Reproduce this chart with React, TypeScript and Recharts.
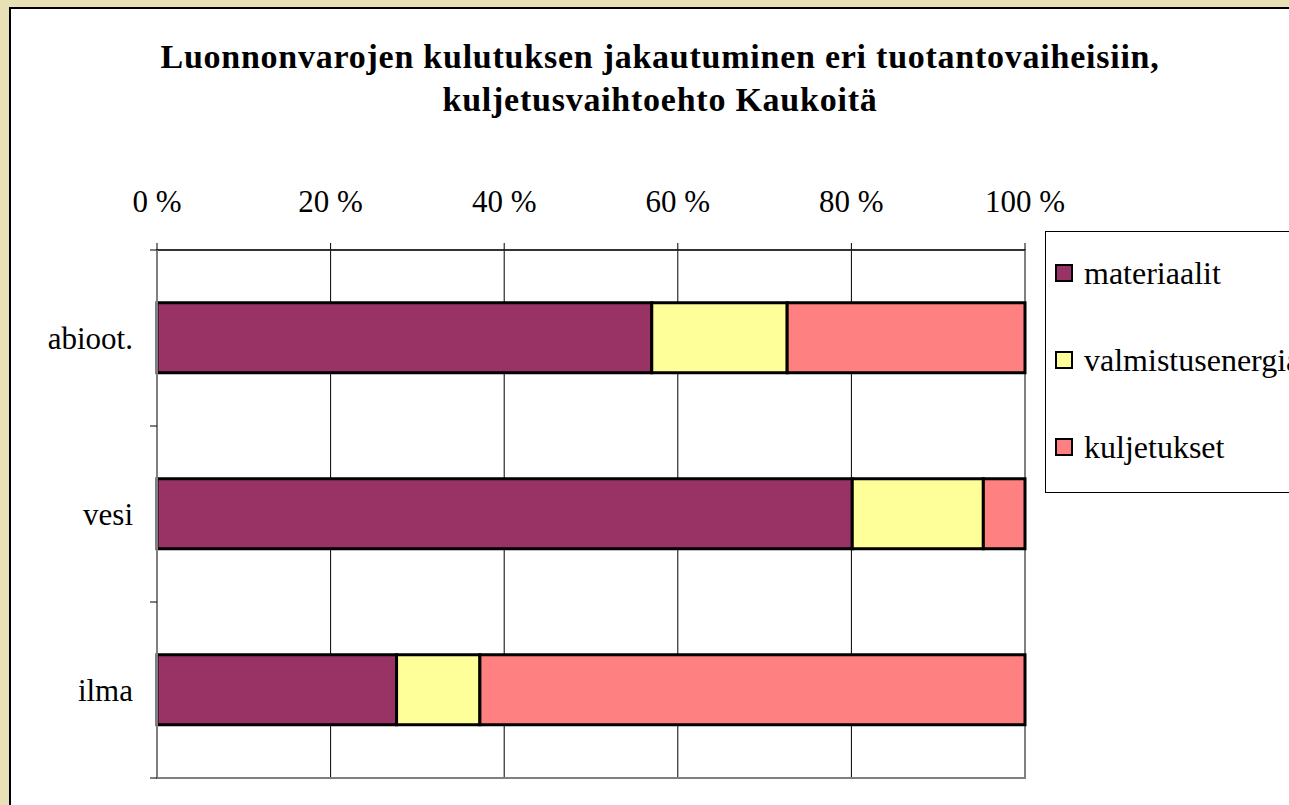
import {
  Bar,
  BarChart,
  CartesianGrid,
  ReferenceArea,
  XAxis,
  YAxis,
} from "recharts";

const categories = ["abioot.", "vesi", "ilma"];
const materiaalit = [57.0, 80.1, 27.6];
const valmistusenergia = [15.6, 15.1, 9.6];
const kuljetukset = [27.4, 4.8, 62.8];
const xTicks = [0, 20, 40, 60, 80, 100];

const series = [
  { key: "materiaalit", name: "materiaalit", fill: "#993366" },
  { key: "valmistusenergia", name: "valmistusenergia", fill: "#FFFF99" },
  { key: "kuljetukset", name: "kuljetukset", fill: "#FF8080" },
];

const data = categories.map((name, i) => ({
  name,
  materiaalit: materiaalit[i],
  valmistusenergia: valmistusenergia[i],
  kuljetukset: kuljetukset[i],
}));

const font = "Liberation Serif, Times New Roman, Times, DejaVu Serif, serif";

function CategoryTick(props: any) {
  const { x, y, payload, index } = props;
  const half = payload?.offset ?? 88;
  const lx = x + 17;
  return (
    <g>
      <text
        x={x}
        y={y}
        textAnchor="end"
        dominantBaseline="central"
        style={{ fontSize: 31, fontFamily: font }}
        fill="#000"
      >
        {payload.value}
      </text>
      {index === 0 ? (
        <line x1={lx} x2={lx + 7} y1={y - half} y2={y - half} stroke="#000" />
      ) : null}
      <line x1={lx} x2={lx + 7} y1={y + half} y2={y + half} stroke="#000" />
    </g>
  );
}

export default function App() {
  return (
    <div
      style={{
        position: "fixed",
        left: 0,
        top: 0,
        width: 1289,
        height: 805,
        overflow: "hidden",
        background: "#E8E0B6",
        fontFamily: font,
      }}
    >
      <div
        style={{
          position: "absolute",
          left: 9,
          top: 7,
          width: 1400,
          height: 900,
          background: "#fff",
          borderLeft: "2px solid #000",
          borderTop: "2px solid #000",
        }}
      />
      <div
        style={{
          position: "absolute",
          left: 60,
          top: 35,
          width: 1200,
          textAlign: "center",
          fontWeight: "bold",
          fontSize: 34,
          letterSpacing: 0.75,
          lineHeight: "43px",
          color: "#000",
          fontFamily: font,
        }}
      >
        Luonnonvarojen kulutuksen jakautuminen eri tuotantovaiheisiin,
        <br />
        kuljetusvaihtoehto Kaukoitä
      </div>

      <div style={{ position: "absolute", left: 0, top: 0 }}>
        <BarChart
          width={1289}
          height={805}
          data={data}
          layout="vertical"
          barCategoryGap="30%"
          margin={{ top: 200, right: 264, bottom: 27, left: 17 }}
          style={{ fontFamily: font }}
        >
          <CartesianGrid horizontal={false} stroke="#000" strokeWidth={1} />
          <ReferenceArea
            x1={0}
            x2={100}
            fill="none"
            stroke="#808080"
            strokeWidth={2}
          />
          <XAxis
            type="number"
            orientation="top"
            domain={[0, 100]}
            ticks={xTicks}
            height={50}
            tickFormatter={(v) => `${v} %`}
            tick={{ fill: "#000", fontSize: 31, fontFamily: font }}
            tickSize={7}
            tickMargin={31}
            tickLine={{ stroke: "#000" }}
            axisLine={{ stroke: "#333", strokeWidth: 2 }}
          />
          <YAxis
            type="category"
            dataKey="name"
            width={140}
            tickSize={7}
            tickMargin={17}
            tickLine={false}
            axisLine={{ stroke: "#808080", strokeWidth: 2 }}
            tick={<CategoryTick />}
          />
          {series.map((s) => (
            <Bar
              key={s.key}
              dataKey={s.key}
              name={s.name}
              stackId="a"
              fill={s.fill}
              stroke="#000"
              strokeWidth={3}
              isAnimationActive={false}
            />
          ))}
        </BarChart>
      </div>

      <div
        style={{
          position: "absolute",
          left: 1045,
          top: 231,
          width: 300,
          height: 262,
          background: "#fff",
          border: "1px solid #000",
          boxSizing: "border-box",
          fontFamily: font,
        }}
      >
        {series.map((s, i) => (
          <div
            key={s.key}
            style={{
              position: "absolute",
              left: 9,
              top: 41 + i * 87 - 20,
              height: 40,
              display: "flex",
              alignItems: "center",
              whiteSpace: "nowrap",
              fontSize: 32,
              color: "#000",
            }}
          >
            <span
              style={{
                display: "inline-block",
                width: 14,
                height: 14,
                background: s.fill,
                border: "2px solid #000",
                marginRight: 11,
              }}
            />
            {s.name}
          </div>
        ))}
      </div>
    </div>
  );
}
